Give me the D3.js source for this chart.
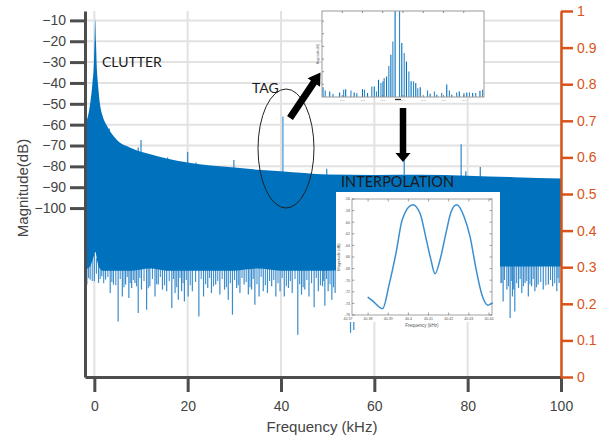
<!DOCTYPE html>
<html>
<head>
<meta charset="utf-8">
<script src="https://cdn.jsdelivr.net/npm/d3@7"></script>
<style>
  body { margin: 0; background: #fff; }
  svg { display: block; }
  .tick text { font-family: "Liberation Sans", Arial, sans-serif; }
  .note { font-family: Lato, "Open Sans", sans-serif; fill: #1a1a1a; }
</style>
</head>
<body>
<script>
// axis ticks
const xTicks = [0, 20, 40, 60, 80, 100]
const yTicksLeft = [-10, -20, -30, -40, -50, -60, -70, -80, -90, -100]
const yTicksRight = [0, 0.1, 0.2, 0.3, 0.4, 0.5, 0.6, 0.7, 0.8, 0.9, 1]

// spectrum envelope (kHz, dB): upper edge and solid lower edge
const envFreq = [-2, -1.5, -0.9, -0.4, -0.1, 0.05, 0.2, 0.35, 0.5, 0.8, 1.2, 1.8, 2.7, 4.7, 8, 12, 15.5, 20, 25, 30, 35, 40, 45, 50, 60, 70, 80, 90, 100]
const envTop = [-59, -57, -50, -40, -31, -20, -9.5, -20, -31, -41, -50, -56, -60.5, -67, -71.3, -74.2, -76.2, -78.1, -79.6, -80.6, -81.6, -82.3, -83.2, -83.9, -84.1, -84.0, -84.5, -85.2, -85.8]
const envBottom = [-130, -129, -128, -125, -123, -122, -121, -122, -124, -127, -129, -130, -130, -130, -130, -129, -130, -130, -130, -130, -129, -130, -130, -130, -129, -129, -128, -128, -128]

// narrow lines poking above the envelope
const peakFreq = [3.2, 9.4, 10.0, 15.7, 20.0, 21.8, 29.9, 49.8, 66.4, 78.6, 79.6, 82.7]
const peakDb = [-61.9, -71, -67.4, -75.8, -73.1, -78.2, -77, -81.1, -76.3, -69.4, -82.3, -80.3]
const tagFreq = 40.4
const tagDb = -56.1

// long lines hanging below the envelope
const dipFreq = [-1.6, -0.9, 0, 0.9, 1.6, 2.4, 3.4, 4.1, 5.1, 6, 6.7, 7.4, 8, 8.7, 9.4, 10.1, 11.2, 11.9, 13, 13.7, 14.6, 15.5, 16.6, 17.3, 18, 18.7, 19.3, 20.1, 21, 22.4, 23.4, 24.3, 25.1, 26, 26.9, 27.9, 28.7, 29.6, 30.5, 31.2, 32.1, 33, 33.7, 34.4, 35.3, 36.2, 37.1, 38, 38.9, 39.8, 40.7, 41.6, 42.4, 43.6, 44.4, 45.1, 46, 47.1, 48, 48.9, 49.4, 50.1, 50.9, 51.6, 52.3, 53.1, 54.9, 55.6, 85.9, 86.6, 87.3, 87.6, 88.4, 89.1, 89.6, 90.1, 90.9, 91.6, 92.3, 93.0, 93.7, 94.4, 95.1, 96.2, 97.3, 98.2, 99.1, 99.6]
const dipDb = [-136.7, -134.3, -135.1, -135.9, -132.7, -134.3, -140.7, -136.7, -154.4, -142.4, -136.7, -143.1, -138.3, -135.9, -150.3, -139.1, -148.7, -137.5, -142.4, -136.7, -139.1, -139.9, -147.9, -140.7, -143.9, -139.9, -144.8, -142.4, -139.9, -152.0, -142.4, -138.3, -140.7, -136.7, -141.5, -139.1, -143.9, -151.1, -138.3, -140.7, -136.7, -141.5, -139.1, -146.3, -142.4, -139.9, -140.7, -137.5, -142.4, -139.9, -142.4, -138.3, -140.7, -160.8, -141.5, -139.1, -142.4, -147.5, -139.9, -137.5, -146.8, -139.9, -143.9, -140.7, -137.5, -142.4, -159.8, -158.5, -134.3, -138.3, -135.9, -144.8, -139.1, -152.7, -142.4, -149.6, -138.3, -140.7, -135.9, -142.4, -137.5, -139.9, -136.7, -139.1, -136.7, -137.5, -139.9, -135.9]

// short ragged lines along the lower edge
const shortFreq = [-1.25, -0.45, 0.45, 1.25, 2.0, 2.9, 3.75, 4.6, 5.55, 6.35, 7.05, 7.7, 8.35, 9.05, 9.75, 10.65, 11.55, 12.45, 13.35, 14.15, 15.05, 16.05, 16.95, 17.65, 18.35, 19.0, 19.7, 20.55, 21.7, 22.9, 23.85, 24.7, 25.55, 26.45, 27.4, 28.3, 29.15, 30.05, 30.85, 31.65, 32.55, 33.35, 34.05, 34.85, 35.75, 36.65, 37.55, 38.45, 39.35, 40.25, 41.15, 42.0, 43.0, 44.0, 44.75, 45.55, 46.55, 47.55, 48.45, 49.15, 49.75, 50.5, 51.25, 51.95, 52.7, 53.5, 54.3, 86.25, 86.95, 87.9, 88.75, 89.35, 89.85, 90.5, 91.25, 91.95, 92.65, 93.35, 94.05, 94.75, 95.65, 96.75, 97.75, 98.65, 99.35]
const shortDb = [-133.5, -135, -131.5, -134, -136, -133, -135.5, -137, -134, -138,
    -133, -136, -134.5, -137.5, -133.5, -135, -138.5, -134, -136.5, -133,
    -137, -135, -134, -138, -133.5, -136, -134.5, -137, -135.5, -134,
    -136.5, -133.5, -137.5, -135, -134, -138, -136, -134.5, -137, -133.5,
    -135.5, -138, -134, -136.5, -133, -137, -135, -134.5, -136, -133.5,
    -137.5, -135, -134, -136.5, -138, -134.5, -136, -133.5, -137, -135,
    -134, -136.5, -138, -134, -135.5, -137, -135,
    -133, -136, -134.5, -137.5, -135, -139, -136, -134, -137.5, -135,
    -136.5, -134, -138, -135.5, -137, -134.5, -136, -133.5]

// top inset: zoomed spectrum around the tag
const zoomFreq = [40.005, 40.016, 40.038, 40.054, 40.087, 40.107, 40.117, 40.143, 40.159, 40.172, 40.2, 40.21, 40.225, 40.246, 40.258, 40.269, 40.279, 40.291, 40.301, 40.307, 40.319, 40.33, 40.34, 40.35, 40.361, 40.383, 40.394, 40.406, 40.417, 40.429, 40.44, 40.452, 40.463, 40.473, 40.485, 40.521, 40.534, 40.555, 40.567, 40.591, 40.616, 40.629, 40.641, 40.665, 40.678, 40.701, 40.715, 40.728, 40.744, 40.759, 40.78, 40.793]
const zoomDb = [-86.1, -87.4, -87.8, -88.7, -88.2, -87.1, -86.9, -87.4, -88.2, -88.4, -86.9, -87.1, -88.4, -85.8, -85.8, -87.8, -83.2, -84.5, -83.8, -82.5, -81.9, -77.7, -73.3, -68.1, -50, -50, -68.7, -72.6, -76.0, -79.9, -83.8, -83.8, -84.5, -86.5, -86.1, -87.4, -88.7, -87.8, -89.1, -88.4, -85.1, -87.4, -89.1, -88.2, -87.8, -88.4, -88.2, -88.2, -88.4, -88.4, -87.5, -87.1]
const zoomXTicks = [40.1, 40.2, 40.3, 40.4, 40.5, 40.6, 40.7]
const zoomYTicks = [-60, -65, -70, -75, -80, -85]

// interpolation inset
const interpFreq = [40.3798, 40.3824, 40.3872, 40.3904, 40.3938, 40.397, 40.4021, 40.4058, 40.4087, 40.4112, 40.4132, 40.4157, 40.4187, 40.4212, 40.424, 40.4276, 40.4306, 40.4336, 40.4365, 40.4394, 40.4419]
const interpDb = [-72.9, -73.6, -74.9, -70.8, -65.4, -59.5, -57.0, -58.5, -62.7, -66.5, -68.9, -66.5, -61.8, -58.2, -57.0, -59.0, -62.5, -68.1, -72.5, -74.3, -73.9]
const interpXTicks = [40.37, 40.38, 40.39, 40.4, 40.41, 40.42, 40.43, 40.44]
const interpYTicks = [-56, -58, -60, -62, -64, -66, -68, -70, -72, -74, -76]

const w = 598
const h = 438
const pLeft = 85, pRight = 561, pTop = 11, pBottom = 377
const blue = '#0072BD'
const orange = '#D95319'
const axisGray = '#4d4d4d'

const svg = d3.select('body').append('svg')
    .attr('width', w)
    .attr('height', h)

const x = d3.scaleLinear().domain([-2, 100]).range([pLeft, pRight])
const yL = d3.scaleLinear().domain([-181, -5.5]).range([pBottom, pTop])
const yR = d3.scaleLinear().domain([0, 1]).range([pBottom, pTop])

// grid
svg.append('g').selectAll('line')
    .data(yTicksLeft).enter().append('line')
    .attr('x1', pLeft).attr('x2', pRight)
    .attr('y1', d => yL(d)).attr('y2', d => yL(d))
    .style('stroke', '#e2e2e2').style('stroke-width', 2)
svg.append('g').selectAll('line')
    .data(xTicks).enter().append('line')
    .attr('x1', d => x(d)).attr('x2', d => x(d))
    .attr('y1', pTop).attr('y2', pBottom)
    .style('stroke', '#e2e2e2').style('stroke-width', 2)

// dips below the fill
svg.append('g').selectAll('line')
    .data(shortFreq).enter().append('line')
    .attr('x1', d => x(d)).attr('x2', d => x(d))
    .attr('y1', yL(-124))
    .attr('y2', (d, i) => yL(shortDb[i]))
    .style('stroke', '#3f90cf').style('stroke-width', 1.1)
svg.append('g').selectAll('line')
    .data(dipFreq).enter().append('line')
    .attr('x1', d => x(d)).attr('x2', d => x(d))
    .attr('y1', yL(-122))
    .attr('y2', (d, i) => yL(dipDb[i]))
    .style('stroke', '#3a8bcc').style('stroke-width', 1.2)

// peaks above the fill
svg.append('g').selectAll('line')
    .data(peakFreq).enter().append('line')
    .attr('x1', d => x(d)).attr('x2', d => x(d))
    .attr('y1', yL(-95))
    .attr('y2', (d, i) => yL(peakDb[i]))
    .style('stroke', '#2f86c8').style('stroke-width', 1.2)

svg.append('line')
    .attr('x1', x(tagFreq)).attr('x2', x(tagFreq))
    .attr('y1', yL(-95)).attr('y2', yL(tagDb))
    .style('stroke', '#62a9de').style('stroke-width', 1.5)

// main spectrum fill
const env = envFreq.map((f, i) => ({ f: f, t: envTop[i], b: envBottom[i] }))
const area = d3.area()
    .x(d => x(d.f))
    .y0(d => yL(d.b))
    .y1(d => yL(d.t))
    .curve(d3.curveMonotoneX)
svg.append('path')
    .datum(env)
    .attr('d', area)
    .style('fill', blue)

// axes
const xAxis = d3.axisBottom(x).tickValues(xTicks).tickSize(15).tickSizeOuter(0).tickPadding(9)
const gx = svg.append('g')
    .attr('transform', `translate(0,${pBottom})`)
    .call(xAxis)
const yAxis = d3.axisLeft(yL).tickValues(yTicksLeft).tickSize(15).tickSizeOuter(0).tickPadding(4)
const gy = svg.append('g')
    .attr('transform', `translate(${pLeft},0)`)
    .call(yAxis)
const yAxisR = d3.axisRight(yR).tickValues(yTicksRight).tickSize(12).tickSizeOuter(0).tickPadding(4)
    .tickFormat(d => String(d))
const gr = svg.append('g')
    .attr('transform', `translate(${pRight},0)`)
    .call(yAxisR)

;[gx, gy].forEach(g => {
    g.select('.domain').style('stroke', axisGray).style('stroke-width', 3)
    g.selectAll('.tick line').style('stroke', axisGray).style('stroke-width', 3)
    g.selectAll('.tick text').style('fill', '#444').style('font-size', '14px')
})
gr.select('.domain').style('stroke', orange).style('stroke-width', 2.5)
gr.selectAll('.tick line').style('stroke', orange).style('stroke-width', 2.5)
gr.selectAll('.tick text').style('fill', orange).style('font-size', '14px')

// axis labels
svg.append('text')
    .attr('x', (pLeft + pRight) / 2 - 1)
    .attr('y', 432)
    .attr('text-anchor', 'middle')
    .style('font-family', '"Liberation Sans", Arial, sans-serif')
    .style('font-size', '15px')
    .style('fill', '#444')
    .text('Frequency (kHz)')

svg.append('text')
    .attr('transform', 'translate(28,188) rotate(-90)')
    .attr('text-anchor', 'middle')
    .style('font-family', '"Liberation Sans", Arial, sans-serif')
    .style('font-size', '15px')
    .style('fill', '#444')
    .text('Magnitude(dB)')

// annotations
svg.append('text').attr('class', 'note')
    .attr('x', 102).attr('y', 67)
    .style('font-size', '14px')
    .text('CLUTTER')
svg.append('text').attr('class', 'note')
    .attr('x', 252).attr('y', 93)
    .style('font-size', '14px')
    .text('TAG')

svg.append('ellipse')
    .attr('cx', 286).attr('cy', 148.5)
    .attr('rx', 28).attr('ry', 59.5)
    .style('fill', 'none')
    .style('stroke', '#222')
    .style('stroke-width', 1)

// arrow helper
function arrow(x0, y0, x1, y1, shaft, headLen, headHalf) {
    const dx = x1 - x0, dy = y1 - y0
    const len = Math.sqrt(dx * dx + dy * dy)
    const ux = dx / len, uy = dy / len
    const nx = -uy, ny = ux
    const bx = x1 - ux * headLen, by = y1 - uy * headLen
    const s = shaft / 2
    const pts = [
        [x0 + nx * s, y0 + ny * s],
        [bx + nx * s, by + ny * s],
        [bx + nx * headHalf, by + ny * headHalf],
        [x1, y1],
        [bx - nx * headHalf, by - ny * headHalf],
        [bx - nx * s, by - ny * s],
        [x0 - nx * s, y0 - ny * s]
    ]
    svg.append('path')
        .attr('d', 'M' + pts.map(p => p.join(',')).join('L') + 'Z')
        .style('fill', '#000')
}
arrow(290, 118, 320.5, 72.5, 7, 12, 7.5)
arrow(403, 108, 403, 162, 6.5, 9, 7.5)

// top inset
const zx = d3.scaleLinear().domain([40.0, 40.8]).range([322, 484])
const zy = d3.scaleLinear().domain([-90, -56]).range([97, 11]).clamp(true)
const zoomG = svg.append('g')
zoomG.append('rect')
    .attr('x', 322).attr('y', 11).attr('width', 162).attr('height', 86)
    .style('fill', '#fff')
zoomG.append('g').selectAll('line')
    .data(zoomFreq).enter().append('line')
    .attr('x1', d => zx(d)).attr('x2', d => zx(d))
    .attr('y1', zy(-90))
    .attr('y2', (d, i) => zy(zoomDb[i]))
    .style('stroke', (d, i) => i % 2 ? '#2f86c8' : blue)
    .style('stroke-width', 1.1)
zoomG.append('g').selectAll('line')
    .data(zoomXTicks).enter().append('line')
    .attr('x1', d => zx(d)).attr('x2', d => zx(d))
    .attr('y1', 11).attr('y2', 13)
    .style('stroke', '#555').style('stroke-width', 0.7)
zoomG.append('g').selectAll('line')
    .data(zoomXTicks).enter().append('line')
    .attr('x1', d => zx(d)).attr('x2', d => zx(d))
    .attr('y1', 97).attr('y2', 95)
    .style('stroke', '#555').style('stroke-width', 0.7)
zoomG.append('g').selectAll('line')
    .data(zoomYTicks).enter().append('line')
    .attr('x1', 322).attr('x2', 324)
    .attr('y1', d => zy(d)).attr('y2', d => zy(d))
    .style('stroke', '#555').style('stroke-width', 0.7)
zoomG.append('g').selectAll('text')
    .data(zoomXTicks).enter().append('text')
    .attr('x', d => zx(d)).attr('y', 101)
    .attr('text-anchor', 'middle')
    .style('font-family', '"Liberation Sans", Arial, sans-serif')
    .style('font-size', '2.5px')
    .style('fill', '#888')
    .text(d => d.toFixed(1))
zoomG.append('rect')
    .attr('x', 322).attr('y', 11).attr('width', 162).attr('height', 86)
    .style('fill', 'none')
    .style('stroke', '#9a9a9a').style('stroke-width', 1)
zoomG.append('line')
    .attr('x1', 395).attr('x2', 401).attr('y1', 99.5).attr('y2', 99.5)
    .style('stroke', '#222').style('stroke-width', 1.3)
zoomG.append('text')
    .attr('transform', 'translate(319,54) rotate(-90)')
    .attr('text-anchor', 'middle')
    .style('font-family', '"Liberation Sans", Arial, sans-serif')
    .style('font-size', '3px')
    .style('fill', '#666')
    .text('Magnitude (dB)')

// interpolation inset
const ix = d3.scaleLinear().domain([40.372, 40.4415]).range([352, 492])
const iy = d3.scaleLinear().domain([-76, -56]).range([315, 199])
const intG = svg.append('g')
intG.append('rect')
    .attr('x', 336).attr('y', 192).attr('width', 164).attr('height', 130)
    .style('fill', '#fff')
intG.append('rect')
    .attr('x', 352).attr('y', 199).attr('width', 140).attr('height', 116)
    .style('fill', 'none')
    .style('stroke', '#8a8a8a').style('stroke-width', 0.8)
const inX = interpXTicks.filter(d => d >= 40.372 && d <= 40.4415)
intG.append('g').selectAll('line')
    .data(inX).enter().append('line')
    .attr('x1', d => ix(d)).attr('x2', d => ix(d))
    .attr('y1', 315).attr('y2', 312.5)
    .style('stroke', '#666').style('stroke-width', 0.6)
intG.append('g').selectAll('line')
    .data(inX).enter().append('line')
    .attr('x1', d => ix(d)).attr('x2', d => ix(d))
    .attr('y1', 199).attr('y2', 201.5)
    .style('stroke', '#666').style('stroke-width', 0.6)
intG.append('g').selectAll('line')
    .data(interpYTicks).enter().append('line')
    .attr('x1', 352).attr('x2', 354.5)
    .attr('y1', d => iy(d)).attr('y2', d => iy(d))
    .style('stroke', '#666').style('stroke-width', 0.6)
intG.append('g').selectAll('line')
    .data(interpYTicks).enter().append('line')
    .attr('x1', 492).attr('x2', 489.5)
    .attr('y1', d => iy(d)).attr('y2', d => iy(d))
    .style('stroke', '#666').style('stroke-width', 0.6)
intG.append('g').selectAll('text')
    .data(interpXTicks).enter().append('text')
    .attr('x', d => Math.max(ix(d), 343)).attr('y', 320)
    .attr('text-anchor', 'middle')
    .style('font-family', '"Liberation Sans", Arial, sans-serif')
    .style('font-size', '3.6px')
    .style('fill', '#555')
    .text(d => String(d))
intG.append('g').selectAll('text')
    .data(interpYTicks).enter().append('text')
    .attr('x', 350).attr('y', d => iy(d) + 1.3)
    .attr('text-anchor', 'end')
    .style('font-family', '"Liberation Sans", Arial, sans-serif')
    .style('font-size', '3.6px')
    .style('fill', '#555')
    .text(d => String(d))
intG.append('text')
    .attr('x', 422).attr('y', 327)
    .attr('text-anchor', 'middle')
    .style('font-family', '"Liberation Sans", Arial, sans-serif')
    .style('font-size', '4.5px')
    .style('fill', '#555')
    .text('Frequency (kHz)')
intG.append('text')
    .attr('transform', 'translate(340,257) rotate(-90)')
    .attr('text-anchor', 'middle')
    .style('font-family', '"Liberation Sans", Arial, sans-serif')
    .style('font-size', '4px')
    .style('fill', '#555')
    .text('Magnitude (dB)')

const interpLine = d3.line()
    .x((d, i) => ix(interpFreq[i]))
    .y(d => iy(d))
    .curve(d3.curveMonotoneX)
intG.append('path')
    .datum(interpDb)
    .attr('d', interpLine)
    .style('fill', 'none')
    .style('stroke', '#3b8fd0')
    .style('stroke-width', 1.5)

svg.append('text').attr('class', 'note')
    .attr('x', 341).attr('y', 187)
    .style('font-size', '14.5px')
    .text('INTERPOLATION')
</script>
</body>
</html>
